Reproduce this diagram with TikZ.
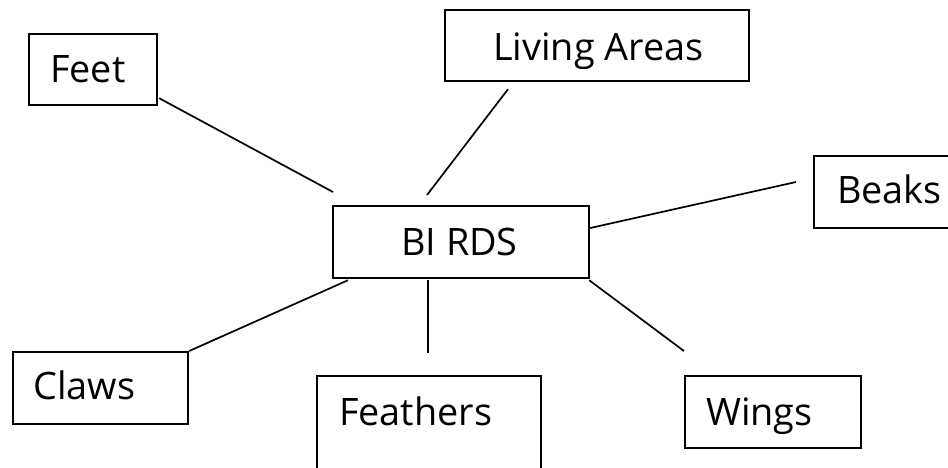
\documentclass[tikz,border=0pt]{standalone}
\usepackage{fontspec}
\setmainfont{Open Sans}
\usetikzlibrary{calc}
\begin{document}
\begin{tikzpicture}[x=1pt,y=-1pt,
  box/.style={draw=black, line width=2.2pt, rectangle, inner sep=0pt, anchor=north west},
  lbl/.style={anchor=base west, inner sep=0pt, font=\fontsize{37.8}{40}\selectfont},
  link/.style={line width=1.7pt, draw=black}]
\clip (0,0) rectangle (948,467);
\fill[white] (0,0) rectangle (948,467);
% boxes
\node[box, minimum width=128pt, minimum height=71pt] (feet) at (28,33) {};
\node[box, minimum width=304pt, minimum height=71pt] (living) at (444,9) {};
\node[box, minimum width=256pt, minimum height=72pt] (birds) at (332,205) {};
\node[box, minimum width=150pt, minimum height=72pt] (beaks) at (813,155) {};
\node[box, minimum width=175pt, minimum height=72pt] (claws) at (12,351) {};
\node[box, minimum width=224pt, minimum height=130pt] (feathers) at (316,375) {};
\node[box, minimum width=176pt, minimum height=72pt] (wings) at (684,375) {};
% labels
\node[lbl] (tfeet) at (50,82) {Feet};
\node[lbl] (tliving) at (493,60) {Living Areas};
\node[lbl] (tbirds) at (401,255) {BI RDS};
\node[lbl] (tbeaks) at (837,203) {Beaks};
\node[lbl] (tclaws) at (33,399) {Claws};
\node[lbl] (tfeathers) at (339,425) {Feathers};
\node[lbl] (twings) at (706,425) {Wings};
% connector end points
\coordinate (f1) at ($(feet.south east)+(1,-8)$);
\coordinate (f2) at ($(birds.north west)+(1,-13)$);
\coordinate (l1) at ($(living.south west)+(64,7)$);
\coordinate (l2) at ($(birds.north west)+(95,-10)$);
\coordinate (b1) at ($(birds.north east)+(0,23)$);
\coordinate (b2) at ($(beaks.north west)+(-17,27)$);
\coordinate (c1) at (claws.north east);
\coordinate (c2) at ($(birds.south west)+(16,1)$);
\coordinate (h1) at ($(birds.south west)+(96,1)$);
\coordinate (h2) at ($(birds.south west)+(96,74)$);
\coordinate (w1) at ($(birds.south east)+(-1,1)$);
\coordinate (w2) at ($(wings.north west)+(0,-24)$);
% connectors
\draw[link] (f1) -- (f2);
\draw[link] (l1) -- (l2);
\draw[link] (b1) -- (b2);
\draw[link] (c1) -- (c2);
\draw[link] (h1) -- (h2);
\draw[link] (w1) -- (w2);
\end{tikzpicture}
\end{document}
